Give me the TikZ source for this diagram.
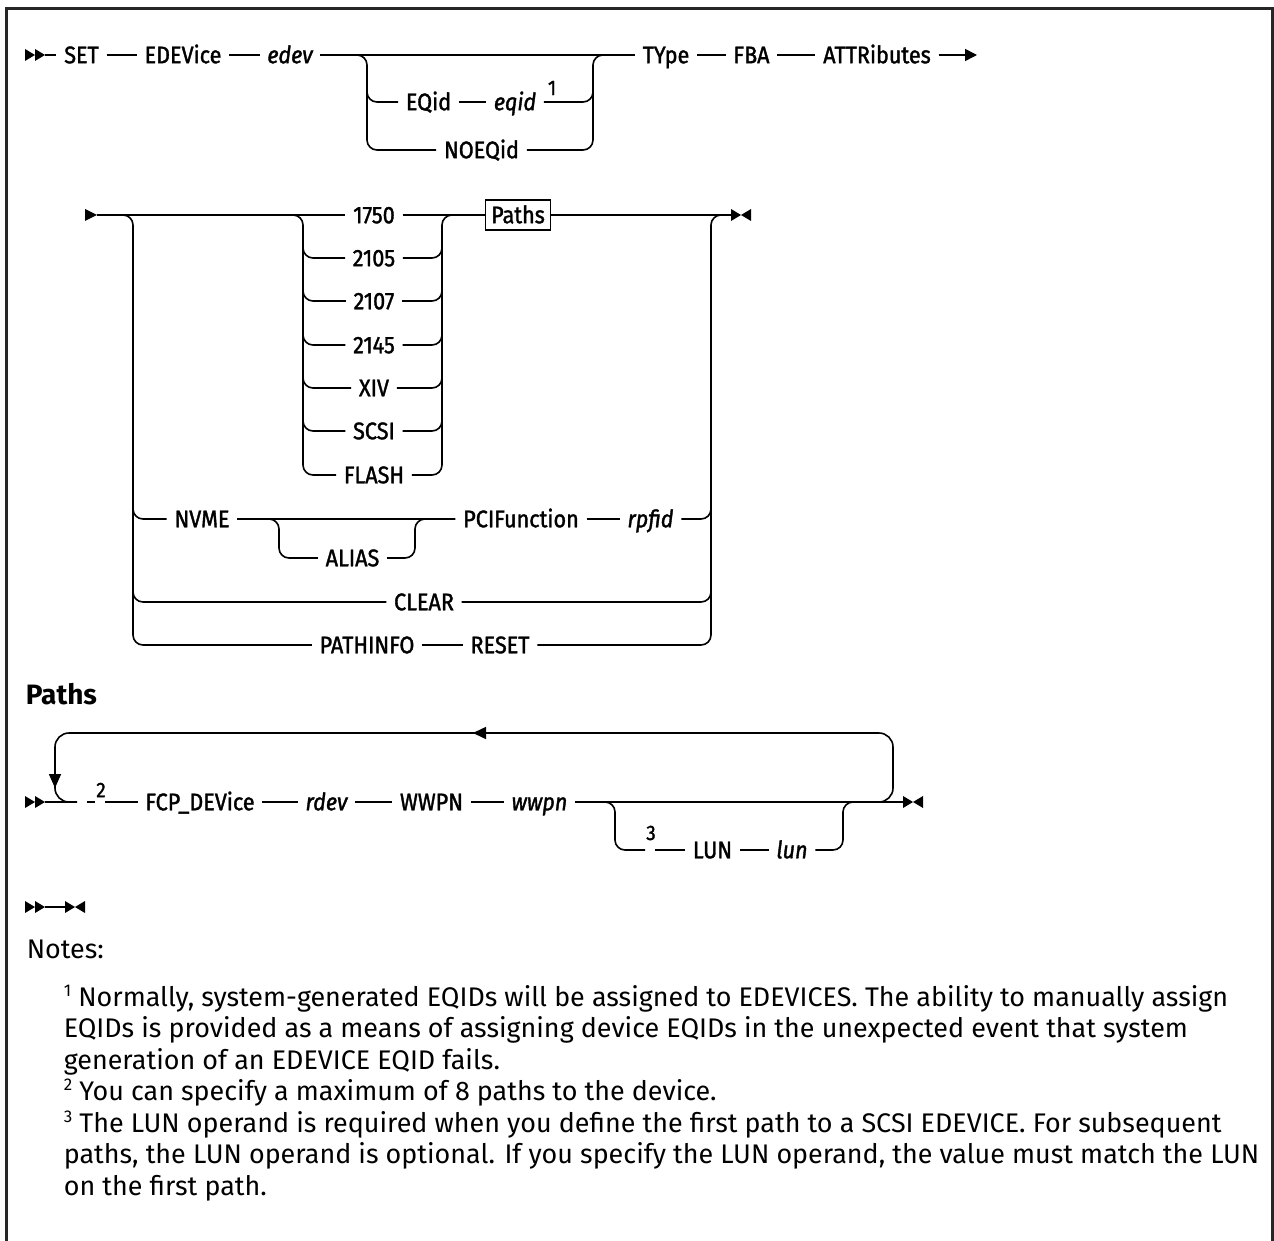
\documentclass[tikz,border=0pt]{standalone}
\usepackage{fontspec}
\setmainfont{Fira Sans}
\newfontfamily\synfont[FakeStretch=0.9,FakeBold=1.5]{Fira Sans}
\usetikzlibrary{calc,arrows.meta}
\newcommand\supn[1]{\raisebox{10pt}{\fontsize{17}{17}\selectfont #1}}
\tikzset{
  dblstart/.pic={\fill (0,-6) -- (10,0) -- (0,6) -- cycle; \fill (10,-6) -- (20,0) -- (10,6) -- cycle;},
  onestart/.pic={\fill (0,-6) -- (12,0) -- (0,6) -- cycle;},
  endmark/.pic={\fill (0,-6) -- (10,0) -- (0,6) -- cycle; \fill (20,-6) -- (10,0) -- (20,6) -- cycle;}
}
\begin{document}
\begin{tikzpicture}[x=1pt,y=-1pt,line width=1.6pt,
  kw/.style={font=\synfont\fontsize{24}{24}\selectfont,inner xsep=7pt,inner ysep=0pt,text height=16.5pt,text depth=0pt},
  var/.style={kw,font=\synfont\itshape\fontsize{24}{24}\selectfont},
  supnum/.style={font=\synfont\fontsize{21}{21}\selectfont,inner sep=0pt},
  pathbox/.style={kw,draw,line width=1.3pt,inner xsep=6pt,minimum height=30pt},
  note/.style={font=\fontsize{26.9}{26.9}\selectfont,inner sep=0pt,anchor=base west},
  rc/.style={rounded corners=10pt}]
\useasboundingbox (0,0) rectangle (1274,1241);
\draw[line width=3pt,black!85] (6,1241) -- (6,9) -- (1272.5,9) -- (1272.5,1241);
% first line
\pic at (25,55) {dblstart};
\coordinate (s1) at (45,55);
\node[kw] (set) at (81.5,55) {SET};
\node[kw] (edevkw) at (183,55) {EDEVice};
\node[var] (edev) at (290,55) {edev};
\node[kw] (eqidkw) at (428.5,102) {EQid};
\node[var] (eqid) at (515,102) {eqid};
\node[supnum] (n1) at (552,88) {1};
\node[kw] (noeqid) at (481.5,150) {NOEQid};
\node[kw] (type) at (666,55) {TYpe};
\node[kw] (fba) at (751.5,55) {FBA};
\node[kw] (attr) at (877,55) {ATTRibutes};
\coordinate (endarrow) at (977,55);
\coordinate (b1l) at (367,55);
\coordinate (b1r) at (593,55);
\draw (s1) -- (set) -- (edevkw) -- (edev) -- (type) -- (fba) -- (attr);
\draw[-{Triangle[length=12pt,width=12pt]}] (attr) -- (endarrow);
\draw[rc] (edev.east) -| (b1l |- noeqid) -- (noeqid.west);
\draw[rc] ($(b1l |- eqidkw)+(0,-15)$) |- (eqidkw.west);
\draw (eqidkw) -- (eqid);
\draw[rc] (eqid.east) -| ($(b1r |- eqid)+(0,-15)$);
\draw[rc] (noeqid.east) -| (b1r |- type) -- (type.west);
% second line
\pic at (85,215) {onestart};
\coordinate (s2) at (97,215);
\coordinate (ol) at (133,215);
\coordinate (or) at (711,215);
\coordinate (il) at (303,215);
\coordinate (ir) at (442,215);
\coordinate (e2) at (731,215);
\pic at (731,215) {endmark};
\node[kw] (t1750) at (374,215) {1750};
\node[kw] (t2105) at (374,258) {2105};
\node[kw] (t2107) at (374,301) {2107};
\node[kw] (t2145) at (374,345) {2145};
\node[kw] (txiv) at (374,388) {XIV};
\node[kw] (tscsi) at (374,431) {SCSI};
\node[kw] (tflash) at (374,475) {FLASH};
\node[pathbox] (paths) at (518,215) {Paths};
\draw (s2) -- (t1750) -- (paths) -- (e2);
\draw[rc] (s2) -| (il |- tflash) -- (tflash.west);
\foreach \n in {t2105,t2107,t2145,txiv,tscsi} {
  \draw[rc] ($(il |- \n)+(0,-15)$) |- (\n.west);
  \draw[rc] (\n.east) -| ($(ir |- \n)+(0,-15)$);
}
\draw[rc] (tflash.east) -| (ir |- paths) -- (paths.west);
\node[kw] (nvme) at (202,519) {NVME};
\node[kw] (alias) at (352.5,558) {ALIAS};
\node[kw] (pcif) at (521,519) {PCIFunction};
\node[var] (rpfid) at (650.5,519) {rpfid};
\coordinate (al) at (279,519);
\coordinate (ar) at (415,519);
\node[kw] (clear) at (424,602) {CLEAR};
\node[kw] (pathinfo) at (367,645) {PATHINFO};
\node[kw] (reset) at (500,645) {RESET};
\draw (nvme) -- (pcif) -- (rpfid);
\draw[rc] (nvme.east) -| (al |- alias) -- (alias.west);
\draw[rc] (alias.east) -| (ar |- pcif) -- (pcif.west);
\draw (pathinfo) -- (reset);
\draw[rc] (s2) -| (ol |- pathinfo) -- (pathinfo.west);
\draw[rc] ($(ol |- nvme)+(0,-15)$) |- (nvme.west);
\draw[rc] ($(ol |- clear)+(0,-15)$) |- (clear.west);
\draw[rc] (rpfid.east) -| ($(or |- rpfid)+(0,-15)$);
\draw[rc] (clear.east) -| ($(or |- clear)+(0,-15)$);
\draw[rc] (reset.east) -| (or |- paths) -- (e2);
% paths fragment
\node[anchor=west,inner sep=0pt,font=\bfseries\fontsize{28}{28}\selectfont] (pathshead) at (25,694) {Paths};
\pic at (25,802) {dblstart};
\coordinate (s3) at (45,802);
\coordinate (g2a) at (77,802);
\coordinate (g2b) at (87,802);
\coordinate (g2c) at (95,802);
\coordinate (g2d) at (105,802);
\node[supnum] (n2) at (101,790) {2};
\node[kw] (fcp) at (200,802) {FCP\_DEVice};
\node[var] (rdev) at (326.5,802) {rdev};
\node[kw] (wwpnkw) at (431.5,802) {WWPN};
\node[var] (wwpn) at (539.5,802) {wwpn};
\coordinate (ll) at (615,802);
\coordinate (lr) at (843,802);
\coordinate (g3a) at (645,850);
\coordinate (g3b) at (655,850);
\node[supnum] (n3) at (651,833) {3};
\node[kw] (lunkw) at (712.5,850) {LUN};
\node[var] (lun) at (792,850) {lun};
\coordinate (pl) at (55,733);
\coordinate (pr) at (893,733);
\coordinate (toparr) at (473,733);
\coordinate (leftarr) at (55,788);
\coordinate (e3) at (903,802);
\pic at (903,802) {endmark};
\draw (s3) -- (g2a);
\draw (g2b) -- (g2c);
\draw (g2d) -- (fcp) -- (rdev) -- (wwpnkw) -- (wwpn) -- (e3);
\draw[rounded corners=14pt] (wwpn.east) -| (pr) -| (s3 -| pl) -- (g2a);
\draw[-{Triangle[length=13pt,width=12pt]}] ($(toparr)+(12,0)$) -- (toparr);
\draw[-{Triangle[length=14pt,width=12pt]}] ($(leftarr)+(0,-14)$) -- (leftarr);
\draw[rc] (wwpn.east) -| (ll |- lunkw) -- (g3a);
\draw (g3b) -- (lunkw) -- (lun);
\draw[rc] (lun.east) -| (lr |- wwpn) -- (e3);
% empty fragment
\pic at (25,907) {dblstart};
\coordinate (s4) at (45,907);
\coordinate (e4) at (65,907);
\draw (s4) -- (e4);
\pic at (65,907) {endmark};
% notes
\node[note] (notes) at (26,958) {Notes:};
\node[note] (note1a) at (63,1006) {\supn{1} Normally, system-generated EQIDs will be assigned to EDEVICES. The ability to manually assign};
\node[note] (note1b) at (63,1037.5) {EQIDs is provided as a means of assigning device EQIDs in the unexpected event that system};
\node[note] (note1c) at (63,1069) {generation of an EDEVICE EQID fails.};
\node[note] (note2) at (63,1100.5) {\supn{2} You can specify a maximum of 8 paths to the device.};
\node[note] (note3a) at (63,1132) {\supn{3} The LUN operand is required when you define the first path to a SCSI EDEVICE. For subsequent};
\node[note] (note3b) at (63,1163.5) {paths, the LUN operand is optional. If you specify the LUN operand, the value must match the LUN};
\node[note] (note3c) at (63,1195) {on the first path.};
\end{tikzpicture}
\end{document}
